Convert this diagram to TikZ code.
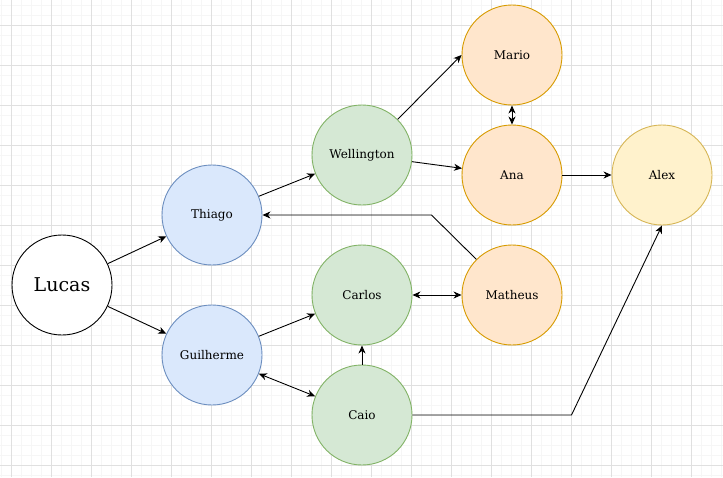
\documentclass[tikz,border=0pt]{standalone}
\usepackage{fontspec}
\setmainfont{DejaVu Serif}
\usetikzlibrary{arrows.meta}
\definecolor{gridminor}{HTML}{F6F6F6}
\definecolor{gridmajor}{HTML}{E0E0E0}
\definecolor{bluefill}{HTML}{DAE8FC}
\definecolor{bluedraw}{HTML}{6C8EBF}
\definecolor{greenfill}{HTML}{D5E8D4}
\definecolor{greendraw}{HTML}{82B366}
\definecolor{orangefill}{HTML}{FFE6CC}
\definecolor{orangedraw}{HTML}{D79B00}
\definecolor{yellowfill}{HTML}{FFF2CC}
\definecolor{yellowdraw}{HTML}{D6B656}
\begin{document}
\begin{tikzpicture}[x=1pt,y=-1pt,
  person/.style={circle, minimum size=100pt, inner sep=0pt, line width=0.9pt, font=\fontsize{12}{14}\selectfont},
  plain/.style={person, draw=black, fill=white},
  blue/.style={person, draw=bluedraw, fill=bluefill},
  green/.style={person, draw=greendraw, fill=greenfill},
  orange/.style={person, draw=orangedraw, fill=orangefill},
  yellow/.style={person, draw=yellowdraw, fill=yellowfill},
  link/.style={line width=0.9pt, draw=black, -{Stealth[length=8pt,width=7pt,inset=2.5pt]}},
  dlink/.style={line width=0.9pt, draw=black, {Stealth[length=8pt,width=7pt,inset=2.5pt]}-{Stealth[length=8pt,width=7pt,inset=2.5pt]}}
]
\useasboundingbox (0,0) rectangle (723,477);
\fill[white] (0,0) rectangle (723,477);
% minor grid
\foreach \x in {1.5,11.5,...,723} \draw[gridminor, line width=0.8pt] (\x,0) -- (\x,477);
\foreach \y in {5,15,...,477} \draw[gridminor, line width=0.8pt] (0,\y) -- (723,\y);
% major grid
\foreach \x in {11.5,51.5,...,723} \draw[gridmajor, line width=0.8pt] (\x,0) -- (\x,477);
\foreach \y in {25,65,...,477} \draw[gridmajor, line width=0.8pt] (0,\y) -- (723,\y);

\node[plain, font=\fontsize{19}{22}\selectfont] (lucas) at (62,285) {Lucas};
\node[blue] (thiago) at (212,215) {Thiago};
\node[blue] (guilherme) at (212,355) {Guilherme};
\node[green] (wellington) at (362,155) {Wellington};
\node[green] (carlos) at (362,295) {Carlos};
\node[green] (caio) at (362,415) {Caio};
\node[orange] (mario) at (512,55) {Mario};
\node[orange] (ana) at (512,175) {Ana};
\node[orange] (matheus) at (512,295) {Matheus};
\node[yellow] (alex) at (662,175) {Alex};

\coordinate (bendm) at (431.5,215);
\coordinate (bendc) at (571.5,415);

\draw[link] (lucas) -- (thiago);
\draw[link] (lucas) -- (guilherme);
\draw[link] (thiago) -- (wellington);
\draw[link] (wellington.45) -- (mario.west);
\draw[link] (wellington) -- (ana);
\draw[dlink] (mario) -- (ana);
\draw[link] (ana) -- (alex);
\draw[link] (matheus.135) -- (bendm) -- (thiago.east);
\draw[dlink] (carlos) -- (matheus);
\draw[link] (guilherme) -- (carlos);
\draw[link] (caio) -- (carlos);
\draw[dlink] (guilherme) -- (caio);
\draw[link] (caio.east) -- (bendc) -- (alex.south);
\end{tikzpicture}
\end{document}
